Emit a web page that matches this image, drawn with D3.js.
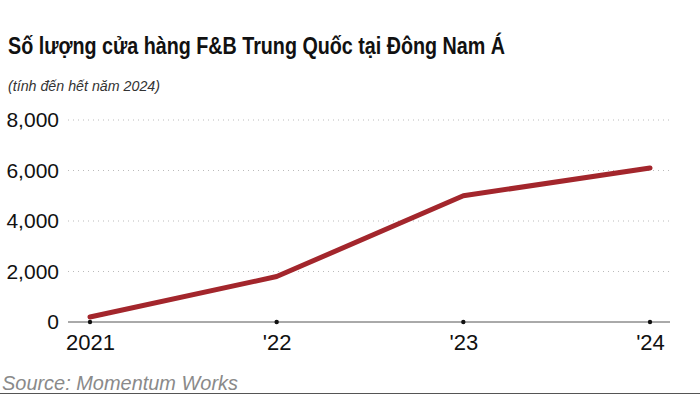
<!DOCTYPE html>
<html>
<head>
<meta charset="utf-8">
<script src="https://cdn.jsdelivr.net/npm/d3@7"></script>
<style>
  body { margin: 0; background: #fff; }
  svg { display: block; font-family: "Liberation Sans", Arial, sans-serif; }
</style>
</head>
<body>
<div id="viz"></div>
<script>
var years = [2021, 2022, 2023, 2024];
var yearLabels = ["2021", "'22", "'23", "'24"];
var stores = [200, 1800, 5000, 6100];
var yTicks = [0, 2000, 4000, 6000, 8000];

var width = 700,
    height = 395,
    margin = {top: 120, right: 30, bottom: 73, left: 68};

var svg = d3.select('#viz').append('svg')
  .attr('width', width)
  .attr('height', height);

var x = d3.scaleLinear()
  .domain([2021, 2024])
  .range([90, 650]);

var y = d3.scaleLinear()
  .domain([0, 8000])
  .range([height - margin.bottom, margin.top]);

// title + subtitle (condensed like the original)
svg.append('text')
  .attr('x', 8).attr('y', 54)
  .attr('font-size', 23).attr('font-weight', 'bold')
  .attr('fill', '#111')
  .attr('textLength', 497).attr('lengthAdjust', 'spacingAndGlyphs')
  .text('Số lượng cửa hàng F&B Trung Quốc tại Đông Nam Á');

svg.append('text')
  .attr('x', 8).attr('y', 91)
  .attr('font-size', 15).attr('font-style', 'italic')
  .attr('fill', '#333')
  .attr('textLength', 152).attr('lengthAdjust', 'spacingAndGlyphs')
  .text('(tính đến hết năm 2024)');

// gridlines
svg.append('g')
  .selectAll('line')
  .data(yTicks.filter(d => d > 0))
  .join('line')
  .attr('x1', margin.left).attr('x2', width - margin.right)
  .attr('y1', d => y(d)).attr('y2', d => y(d))
  .attr('stroke', '#bbb')
  .attr('stroke-width', 1)
  .attr('stroke-dasharray', '1,4');

// y axis labels
var yAxis = svg.append('g')
  .attr('transform', 'translate(' + (margin.left - 6) + ',0)')
  .call(d3.axisLeft(y).tickValues(yTicks).tickSize(0).tickFormat(d3.format(',')));
yAxis.select('.domain').remove();
yAxis.selectAll('text')
  .attr('font-size', 21).attr('fill', '#111')
  .attr('font-family', '"Liberation Sans", Arial, sans-serif');

// x axis
var xAxis = svg.append('g')
  .attr('transform', 'translate(0,' + y(0) + ')')
  .call(d3.axisBottom(x).tickValues(years).tickSize(0).tickPadding(12)
    .tickFormat((d, i) => yearLabels[i]));
xAxis.select('.domain')
  .attr('d', 'M' + margin.left + ',0H' + (width - margin.right))
  .attr('stroke', '#555').attr('stroke-width', 1);
xAxis.selectAll('text')
  .attr('font-size', 22).attr('fill', '#111')
  .attr('font-family', '"Liberation Sans", Arial, sans-serif');

svg.append('g')
  .selectAll('circle')
  .data(years)
  .join('circle')
  .attr('cx', d => x(d)).attr('cy', y(0))
  .attr('r', 2.2)
  .attr('fill', '#111');

// line
var line = d3.line()
  .x((d, i) => x(years[i]))
  .y(d => y(d));

svg.append('path')
  .datum(stores)
  .attr('d', line)
  .attr('fill', 'none')
  .attr('stroke', '#a3262c')
  .attr('stroke-width', 5)
  .attr('stroke-linecap', 'round')
  .attr('stroke-linejoin', 'round');

// source
svg.append('text')
  .attr('x', 2).attr('y', 390)
  .attr('font-size', 20).attr('font-style', 'italic')
  .attr('fill', '#8a8a8a')
  .attr('textLength', 236).attr('lengthAdjust', 'spacingAndGlyphs')
  .text('Source: Momentum Works');

svg.append('line')
  .attr('x1', 0).attr('x2', width)
  .attr('y1', 393.5).attr('y2', 393.5)
  .attr('stroke', '#555').attr('stroke-width', 1);
</script>
</body>
</html>
